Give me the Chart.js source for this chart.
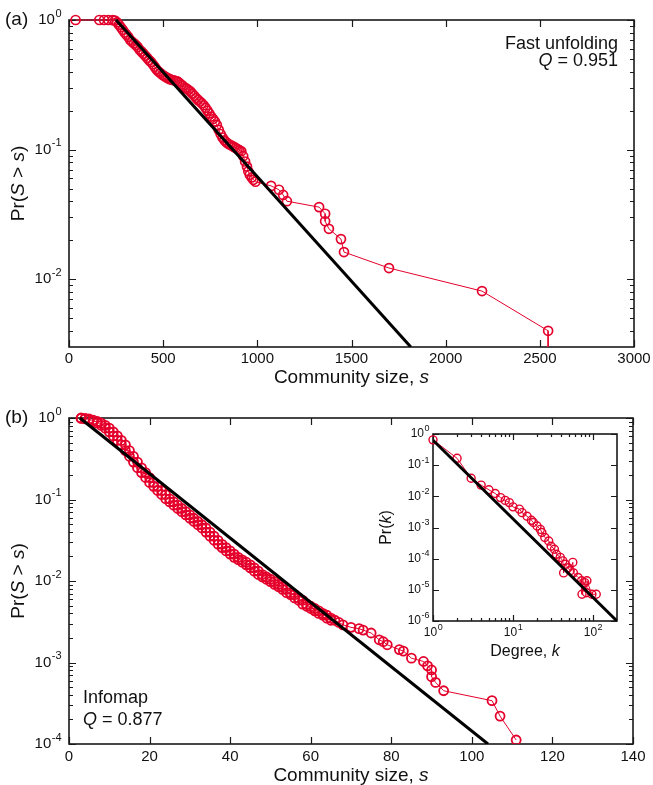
<!DOCTYPE html>
<html>
<head>
<meta charset="utf-8">
<script src="https://cdn.jsdelivr.net/npm/chart.js@4.4.0/dist/chart.umd.min.js"></script>
<style>
  body { margin: 0; background: #fff; }
  #wrap { position: relative; width: 653px; height: 785px; background: #fff; }
  canvas { position: absolute; }
</style>
</head>
<body>
<div id="wrap">
  <canvas id="chartA" width="653" height="392" style="left:0;top:0"></canvas>
  <canvas id="chartB" width="653" height="393" style="left:0;top:392px"></canvas>
  <canvas id="chartIn" width="250" height="245" style="left:375px;top:420px"></canvas>
</div>
<script>
// ---------- (a) Fast unfolding : community size vs Pr(S > s) ----------
const sizeA = [35, 161, 186, 209, 232, 244,
  255, 265, 275, 285, 295, 305, 315, 325, 335, 345,
  355, 365, 375, 385, 395, 405, 415, 425, 435, 445,
  455, 465, 475, 485, 495, 505, 515, 525, 535, 545,
  555, 565, 575, 585, 595, 605, 615, 625, 635, 645,
  655, 665, 675, 685, 695, 705, 715, 725, 735, 745,
  755, 765, 775, 785, 795, 805, 815, 825, 835, 845,
  855, 865, 875, 885, 895, 905, 915, 925, 935, 945,
  952, 960, 970, 979, 990,
  1073, 1115, 1137, 1157,
  1328, 1360, 1360, 1380, 1444, 1460,
  1699, 2193, 2544, 2544];
const probA = [1, 1, 1, 1, 0.998, 0.99,
  0.96, 0.92, 0.88, 0.84, 0.80, 0.77, 0.74, 0.70, 0.68, 0.66,
  0.64, 0.62, 0.59, 0.57, 0.55, 0.53, 0.51, 0.49, 0.475, 0.455,
  0.435, 0.415, 0.40, 0.39, 0.378, 0.370, 0.362, 0.356, 0.350, 0.346,
  0.343, 0.340, 0.336, 0.328, 0.318, 0.31, 0.30, 0.295, 0.288, 0.28,
  0.27, 0.26, 0.25, 0.242, 0.235, 0.228, 0.22, 0.21, 0.20, 0.19,
  0.18, 0.172, 0.165, 0.155, 0.142, 0.132, 0.124, 0.118, 0.114, 0.111,
  0.109, 0.107, 0.105, 0.103, 0.101, 0.099, 0.097, 0.089, 0.081, 0.074,
  0.068, 0.064, 0.061, 0.0585, 0.0565,
  0.0525, 0.049, 0.0447, 0.040,
  0.036, 0.032, 0.028, 0.0245, 0.0204, 0.0162,
  0.0122, 0.0081, 0.0040, 0.002];
const fitSizeA = [250, 1815];
const fitProbA = [1.0, 0.003];

// ---------- (b) Infomap ----------
const sizeB = [3, 4, 5, 6, 7, 8, 9, 10, 11, 12,
  13, 14, 15, 16, 17, 18, 19, 20, 21, 22,
  23, 24, 25, 26, 27, 28, 29, 30, 31, 32,
  33, 34, 35, 36, 37, 38, 39, 40, 41, 42,
  43, 44, 45, 46, 47, 48, 49, 50, 51, 52,
  53, 54, 55, 56, 57, 58, 59, 60, 61, 62,
  63, 64, 65,
  66, 67, 68, 70, 72, 73, 75, 77, 78, 79,
  82, 83, 85, 88, 89, 90, 90, 91, 93,
  105, 107, 111];
const probB = [1.0, 0.989, 0.973, 0.944, 0.908, 0.865, 0.813, 0.750, 0.676, 0.603,
  0.531, 0.468, 0.398, 0.339, 0.288, 0.245, 0.214, 0.186, 0.162, 0.145,
  0.129, 0.115, 0.102, 0.0933, 0.0851, 0.0776, 0.0708, 0.0646, 0.0589, 0.0537,
  0.0490, 0.0447, 0.0398, 0.0355, 0.0316, 0.0282, 0.0257, 0.0234, 0.0214, 0.0195,
  0.0182, 0.0170, 0.0158, 0.0145, 0.0132, 0.0120, 0.0112, 0.0105, 0.0098, 0.0091,
  0.0085, 0.0079, 0.0072, 0.0068, 0.0062, 0.0058, 0.0052, 0.0049, 0.0046, 0.0043,
  0.0040, 0.0038, 0.0035,
  0.0033, 0.0031, 0.0029, 0.0027, 0.0026, 0.0025, 0.0023, 0.0019, 0.0018, 0.00165,
  0.00144, 0.00138, 0.00113, 0.00103, 0.00091, 0.00081, 0.00067, 0.00057, 0.00045,
  0.00034, 0.00022, 0.000112];
const fitSizeB = [2.7, 104];
const fitProbB = [1.0, 0.0001];

// ---------- inset : degree distribution ----------
const degK = [1, 2, 3, 4, 5, 6, 7, 8, 9, 10,
  12, 13, 15, 17, 18, 20, 22, 23, 25, 28,
  30, 33, 35, 39, 42, 43, 45, 49, 52, 56,
  57, 65, 72, 73, 79, 83, 84, 97, 110];
const degP = [0.65, 0.166, 0.038, 0.0229, 0.0162, 0.0123, 0.0091, 0.0074, 0.0063, 0.0046,
  0.0039, 0.0030, 0.0023, 0.0017, 0.00145, 0.00112, 0.00087, 0.00069, 0.00048, 0.00037,
  0.00025, 0.0002, 0.000138, 0.00011, 0.000085, 0.000035, 0.000066, 0.000051, 0.000041, 0.000076,
  0.000035, 0.000025, 0.0000195, 0.0000072, 0.000017, 0.0000081, 0.0000195, 0.0000072, 0.0000072];
const fitDegK = [1, 200];
const fitDegP = [0.63, 0.000001];

// tick labels
const xTicksA = [0, 500, 1000, 1500, 2000, 2500, 3000];
const xTicksB = [0, 20, 40, 60, 80, 100, 120, 140];
const yExpA = [0, -1, -2];
const yExpB = [0, -1, -2, -3, -4];
const xExpIn = [0, 1, 2];
const yExpIn = [0, -1, -2, -3, -4, -5, -6];

const RED = '#e4002b';
const AXIS = '#1a1a1a';
const FONT = "'Liberation Sans', Arial, Helvetica, sans-serif";

function pts(xs, ys) {
    return xs.map((v, i) => ({ x: v, y: ys[i] }));
}

// CCDF with tied sizes: each integer size runs down to the next value (same values, step form)
function stepPts(xs, ys) {
    const out = [];
    xs.forEach((v, i) => {
        out.push({ x: v, y: ys[i] });
        if (i + 1 < xs.length && xs[i + 1] - v === 1 && v <= 65) out.push({ x: v, y: ys[i + 1] });
    });
    return out;
}

// minor log ticks (2..9 x each decade) inside [min, max]
function logMinors(min, max) {
    const out = [];
    for (let e = Math.floor(Math.log10(min)); e <= Math.ceil(Math.log10(max)); e++) {
        for (let m = 2; m <= 9; m++) {
            const v = m * Math.pow(10, e);
            if (v > min * 1.0001 && v < max * 0.9999) out.push(v);
        }
    }
    return out;
}

// "10" with raised exponent
function drawPow(ctx, exp, x, y, size, align) {
    const base = size + 'px ' + FONT;
    const sup = Math.round(size * 0.72) + 'px ' + FONT;
    ctx.font = base;
    const w1 = ctx.measureText('10').width;
    ctx.font = sup;
    const w2 = ctx.measureText(String(exp)).width;
    const x0 = align === 'right' ? x - w1 - w2 : x - (w1 + w2) / 2;
    ctx.textAlign = 'left';
    ctx.textBaseline = 'middle';
    ctx.font = base;
    ctx.fillText('10', x0, y);
    ctx.font = sup;
    ctx.fillText(String(exp), x0 + w1 + 0.5, y - size * 0.42);
}

// text made of plain / italic pieces
function drawRich(ctx, parts, x, y, size, align) {
    let w = 0;
    parts.forEach(p => {
        ctx.font = (p[1] ? 'italic ' : '') + size + 'px ' + FONT;
        w += ctx.measureText(p[0]).width;
    });
    let cx = align === 'right' ? x - w : (align === 'left' ? x : x - w / 2);
    ctx.textAlign = 'left';
    parts.forEach(p => {
        ctx.font = (p[1] ? 'italic ' : '') + size + 'px ' + FONT;
        ctx.fillText(p[0], cx, y);
        cx += ctx.measureText(p[0]).width;
    });
}

// frame, inward ticks on all four sides, labels
function axesPlugin(cfg) {
    return {
        id: 'axesBox',
        beforeDatasetsDraw(chart) {
            const ctx = chart.ctx;
            const a = chart.chartArea;
            const xs = chart.scales.x, ys = chart.scales.y;
            ctx.save();
            if (cfg.fill) {
                ctx.fillStyle = '#fff';
                ctx.fillRect(a.left, a.top, a.right - a.left, a.bottom - a.top);
            }
            ctx.strokeStyle = AXIS;
            ctx.lineWidth = 1.2;
            ctx.beginPath();
            const xt = (v, len) => {
                const p = Math.round(xs.getPixelForValue(v)) + 0.5;
                ctx.moveTo(p, a.bottom); ctx.lineTo(p, a.bottom - len);
                ctx.moveTo(p, a.top); ctx.lineTo(p, a.top + len);
            };
            const yt = (v, len) => {
                const p = Math.round(ys.getPixelForValue(v)) + 0.5;
                ctx.moveTo(a.left, p); ctx.lineTo(a.left + len, p);
                ctx.moveTo(a.right, p); ctx.lineTo(a.right - len, p);
            };
            cfg.xMajor.forEach(v => xt(v, cfg.major));
            (cfg.xMinor || []).forEach(v => xt(v, cfg.minor));
            cfg.yMajor.forEach(v => yt(v, cfg.major));
            (cfg.yMinor || []).forEach(v => yt(v, cfg.minor));
            ctx.stroke();
            ctx.lineWidth = 1.6;
            ctx.strokeRect(a.left, a.top, a.right - a.left, a.bottom - a.top);

            ctx.fillStyle = '#111';
            // x tick labels
            cfg.xLabels.forEach(v => {
                const p = xs.getPixelForValue(v);
                if (cfg.xPow) {
                    drawPow(ctx, Math.round(Math.log10(v)), p, a.bottom + cfg.xLabelDy, cfg.tickSize, 'center');
                } else {
                    ctx.font = cfg.tickSize + 'px ' + FONT;
                    ctx.textAlign = 'center';
                    ctx.textBaseline = 'middle';
                    ctx.fillText(String(v), p, a.bottom + cfg.xLabelDy);
                }
            });
            // y tick labels
            cfg.yLabels.forEach(e => {
                drawPow(ctx, e, cfg.yLabelRight, ys.getPixelForValue(Math.pow(10, e)), cfg.tickSize, 'right');
            });
            ctx.restore();
        },
        afterDatasetsDraw(chart) {
            const ctx = chart.ctx;
            const a = chart.chartArea;
            ctx.save();
            ctx.fillStyle = '#111';
            ctx.textBaseline = 'middle';
            // x axis title
            drawRich(ctx, cfg.xTitle, (a.left + a.right) / 2, a.bottom + cfg.xTitleDy, cfg.titleSize, 'center');
            // y axis title, rotated
            ctx.save();
            ctx.translate(cfg.yTitleX, (a.top + a.bottom) / 2);
            ctx.rotate(-Math.PI / 2);
            drawRich(ctx, cfg.yTitle, 0, 0, cfg.titleSize, 'center');
            ctx.restore();
            (cfg.notes || []).forEach(n => drawRich(ctx, n.parts, n.x, n.y, n.size, n.align));
            ctx.restore();
        }
    };
}

function makeChart(id, pad, xOpt, yOpt, sets, cfg) {
    return new Chart(document.getElementById(id), {
        type: 'scatter',
        data: { datasets: sets },
        options: {
            animation: false, responsive: false, events: [],
            layout: { padding: pad },
            plugins: { legend: { display: false }, tooltip: { enabled: false } },
            scales: {
                x: Object.assign({ display: false }, xOpt),
                y: Object.assign({ display: false }, yOpt)
            }
        },
        plugins: [axesPlugin(cfg)]
    });
}

function fitSet(xs, ys) {
    return { data: pts(xs, ys), showLine: true, borderColor: '#000', borderWidth: 3,
        pointRadius: 0, clip: { left: 0, top: 2, right: 0, bottom: 0 } };
}
function dataSet(data, r, bw) {
    return { data: data, showLine: true, borderColor: RED, borderWidth: 1,
        pointRadius: r, pointBorderWidth: bw, pointBorderColor: RED,
        pointBackgroundColor: 'rgba(0,0,0,0)', clip: { left: 10, top: 10, right: 10, bottom: 0 } };
}

document.addEventListener('DOMContentLoaded', function () {
    // ---- panel (a)
    makeChart('chartA', { left: 69, top: 20, right: 19, bottom: 45 },
        { type: 'linear', min: 0, max: 3000 },
        { type: 'logarithmic', min: 0.003, max: 1 },
        [fitSet(fitSizeA, fitProbA), dataSet(pts(sizeA, probA), 4.5, 1.7)],
        { major: 7, minor: 4, tickSize: 15, titleSize: 19,
          xMajor: xTicksA, xLabels: xTicksA, xLabelDy: 12, xTitleDy: 31,
          yMajor: yExpA.map(e => Math.pow(10, e)), yMinor: logMinors(0.003, 1),
          yLabels: yExpA, yLabelRight: 61,
          xTitle: [['Community size, ', false], ['s', true]],
          yTitle: [['Pr(', false], ['S', true], [' > ', false], ['s', true], [')', false]], yTitleX: 19,
          notes: [
            { parts: [['(a)', false]], x: 5, y: 20, size: 19, align: 'left' },
            { parts: [['Fast unfolding', false]], x: 618, y: 44, size: 18, align: 'right' },
            { parts: [['Q', true], [' = 0.951', false]], x: 618, y: 61, size: 18, align: 'right' }
          ] });

    // ---- panel (b)
    makeChart('chartB', { left: 69, top: 26, right: 20, bottom: 41 },
        { type: 'linear', min: 0, max: 140 },
        { type: 'logarithmic', min: 0.0001, max: 1 },
        [fitSet(fitSizeB, fitProbB), dataSet(stepPts(sizeB, probB), 4.5, 1.8)],
        { major: 7, minor: 4, tickSize: 15, titleSize: 19,
          xMajor: xTicksB, xLabels: xTicksB, xLabelDy: 13, xTitleDy: 32,
          yMajor: yExpB.map(e => Math.pow(10, e)), yMinor: logMinors(0.0001, 1),
          yLabels: yExpB, yLabelRight: 61,
          xTitle: [['Community size, ', false], ['s', true]],
          yTitle: [['Pr(', false], ['S', true], [' > ', false], ['s', true], [')', false]], yTitleX: 19,
          notes: [
            { parts: [['(b)', false]], x: 5, y: 26, size: 19, align: 'left' },
            { parts: [['Infomap', false]], x: 83, y: 306, size: 18, align: 'left' },
            { parts: [['Q', true], [' = 0.877', false]], x: 83, y: 328, size: 18, align: 'left' }
          ] });

    // ---- inset
    makeChart('chartIn', { left: 58, top: 14, right: 8, bottom: 44 },
        { type: 'logarithmic', min: 1, max: 200 },
        { type: 'logarithmic', min: 0.000001, max: 1 },
        [fitSet(fitDegK, fitDegP), dataSet(pts(degK, degP), 4, 1.4)],
        { fill: true, major: 6, minor: 3, tickSize: 12, titleSize: 16,
          xMajor: xExpIn.map(e => Math.pow(10, e)), xMinor: logMinors(1, 200),
          xLabels: xExpIn.map(e => Math.pow(10, e)), xPow: true, xLabelDy: 12, xTitleDy: 31,
          yMajor: yExpIn.map(e => Math.pow(10, e)),
          yLabels: yExpIn, yLabelRight: 54,
          xTitle: [['Degree, ', false], ['k', true]],
          yTitle: [['Pr(', false], ['k', true], [')', false]], yTitleX: 12 });
});
</script>
</body>
</html>
